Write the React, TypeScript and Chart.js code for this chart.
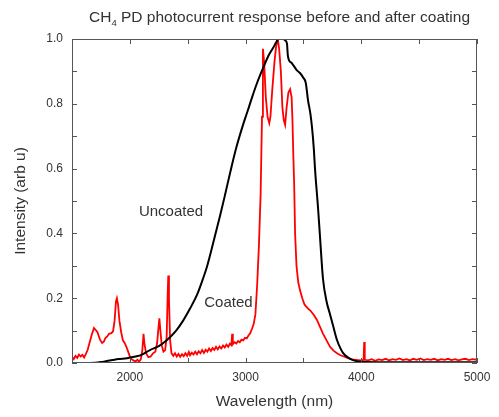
import React, { useEffect, useRef } from "react";
import { Chart, registerables } from "chart.js";

Chart.register(...registerables);

// Uncoated (black) response
const uncoatedWavelength = [
  1500, 1600, 1700, 1750, 1800, 1850, 1900, 1975, 2050, 2100, 2174, 2250, 2321, 2400, 2459, 2520,
  2580, 2630, 2667, 2720, 2780, 2820, 2865, 2920, 2978, 3020, 3056, 3100, 3151, 3200, 3237, 3265,
  3285, 3320, 3345, 3358, 3365, 3375, 3401, 3440, 3470, 3500, 3520, 3540, 3560, 3574, 3590, 3600,
  3628, 3645, 3669, 3700, 3730, 3760, 3790, 3820, 3842, 3880, 3928, 3970, 4049, 4200, 4500, 5000,
];
const uncoatedIntensity = [
  0, 0, 0.001, 0.003, 0.006, 0.009, 0.012, 0.015, 0.02, 0.025, 0.04, 0.052, 0.071, 0.1, 0.13, 0.168,
  0.21, 0.258, 0.298, 0.37, 0.455, 0.515, 0.585, 0.665, 0.735, 0.78, 0.82, 0.865, 0.91, 0.95, 0.972, 0.99,
  1.0, 1.0, 0.995, 0.985, 0.95, 0.935, 0.925, 0.905, 0.895, 0.88, 0.865, 0.81, 0.77, 0.728, 0.66, 0.6,
  0.47, 0.38, 0.26, 0.19, 0.15, 0.11, 0.071, 0.045, 0.031, 0.018, 0.009, 0.005, 0.003, 0.002, 0.002, 0.002,
];

// Coated (red) response
const coatedWavelength = [
  1500, 1515, 1530, 1545, 1560, 1575, 1590, 1605, 1620, 1635, 1650, 1673, 1690, 1705, 1720, 1742,
  1760, 1775, 1790, 1805, 1820, 1840, 1855, 1868, 1880, 1888, 1898, 1910, 1925, 1940, 1955, 1970,
  1985, 2000, 2015, 2030, 2050, 2065, 2080, 2095, 2108, 2118, 2126, 2140, 2160, 2180, 2200, 2220,
  2235, 2245, 2255, 2264, 2275, 2290, 2305, 2318, 2326, 2332, 2338, 2348, 2360, 2375, 2390, 2405,
  2420, 2435, 2450, 2465, 2480, 2495, 2510, 2520, 2535, 2550, 2565, 2580, 2595, 2610, 2625, 2640,
  2655, 2670, 2685, 2700, 2715, 2730, 2745, 2760, 2775, 2790, 2805, 2820, 2835, 2850, 2865, 2878,
  2884, 2890, 2905, 2920, 2935, 2950, 2965, 2980, 2995, 3010, 3025, 3040, 3055, 3070, 3085, 3100,
  3115, 3130, 3142, 3150, 3160, 3175, 3190, 3205, 3215, 3230, 3250, 3265, 3278, 3290, 3305, 3318,
  3330, 3342, 3355, 3370, 3385, 3398, 3405, 3412, 3420, 3428, 3440, 3455, 3470, 3490, 3510, 3540,
  3560, 3590, 3617, 3645, 3670, 3700, 3730, 3760, 3790, 3820, 3850, 3880, 3910, 3940, 3970, 4000,
  4020, 4025, 4030, 4060, 4090, 4120, 4150, 4180, 4210, 4240, 4270, 4300, 4330, 4360, 4390, 4420,
  4450, 4480, 4510, 4540, 4570, 4600, 4630, 4660, 4690, 4720, 4750, 4780, 4810, 4840, 4870, 4900,
  4930, 4960, 5000,
];
const coatedIntensity = [
  0.018, 0.012, 0.022, 0.016, 0.026, 0.02, 0.025, 0.017, 0.028, 0.04, 0.06, 0.09, 0.108, 0.102, 0.095, 0.072,
  0.062, 0.066, 0.078, 0.082, 0.09, 0.092, 0.098, 0.13, 0.19, 0.2, 0.18, 0.13, 0.095, 0.07, 0.062, 0.05,
  0.035, 0.02, 0.012, 0.008, 0.005, 0.01, 0.004, 0.012, 0.04, 0.09, 0.06, 0.03, 0.018, 0.02, 0.03, 0.035,
  0.06, 0.1, 0.138, 0.1, 0.055, 0.035, 0.04, 0.08, 0.2, 0.27, 0.2, 0.07, 0.03, 0.022, 0.03, 0.02,
  0.028, 0.019, 0.027, 0.021, 0.03, 0.022, 0.034, 0.024, 0.032, 0.026, 0.035, 0.027, 0.036, 0.03, 0.04, 0.031,
  0.041, 0.035, 0.045, 0.037, 0.046, 0.04, 0.05, 0.042, 0.051, 0.045, 0.054, 0.048, 0.057, 0.05, 0.06, 0.055,
  0.09, 0.058, 0.064, 0.06, 0.068, 0.064, 0.072, 0.07, 0.078, 0.076, 0.085, 0.092, 0.105, 0.12, 0.15, 0.24,
  0.36, 0.52, 0.76, 0.97, 0.93, 0.82, 0.76, 0.74, 0.76, 0.84, 0.93, 0.98, 1.0, 0.97, 0.9, 0.79,
  0.75, 0.735, 0.79, 0.835, 0.845, 0.82, 0.75, 0.65, 0.55, 0.4, 0.3, 0.25, 0.225, 0.2, 0.18, 0.168,
  0.162, 0.148, 0.133, 0.11, 0.09, 0.07, 0.05, 0.038, 0.03, 0.024, 0.02, 0.016, 0.012, 0.01, 0.009, 0.008,
  0.01, 0.065, 0.01, 0.008, 0.012, 0.007, 0.011, 0.009, 0.013, 0.008, 0.012, 0.01, 0.014, 0.009, 0.012, 0.008,
  0.013, 0.01, 0.014, 0.009, 0.012, 0.01, 0.013, 0.008, 0.012, 0.01, 0.013, 0.009, 0.012, 0.008, 0.011, 0.013,
  0.009, 0.012, 0.01,
];

const xTickLabels = [2000, 3000, 4000, 5000];
const yTickLabels = [0, 0.2, 0.4, 0.6, 0.8, 1.0];

const FONT = "'Liberation Sans', Arial, sans-serif";
const TEXT = "#333333";

const framePlugin = {
  id: "frameTicks",
  afterDatasetsDraw(chart: any) {
    const { ctx, chartArea } = chart;
    const { left, right, top, bottom } = chartArea;
    const xs = chart.scales.x;
    const ys = chart.scales.y;
    ctx.save();
    ctx.strokeStyle = "#555555";
    ctx.lineWidth = 1;
    ctx.beginPath();
    ctx.rect(left + 0.5, top + 0.5, right - left - 1, bottom - top - 1);
    ctx.stroke();
    const tl = 5;
    ctx.beginPath();
    xs.ticks.forEach((t: any) => {
      const px = Math.round(xs.getPixelForValue(t.value)) + 0.5;
      ctx.moveTo(px, bottom);
      ctx.lineTo(px, bottom - tl);
      ctx.moveTo(px, top);
      ctx.lineTo(px, top + tl);
    });
    ys.ticks.forEach((t: any) => {
      const py = Math.round(ys.getPixelForValue(t.value)) + 0.5;
      ctx.moveTo(left, py);
      ctx.lineTo(left + tl, py);
      ctx.moveTo(right, py);
      ctx.lineTo(right - tl, py);
    });
    ctx.stroke();

    // curve labels
    ctx.fillStyle = TEXT;
    ctx.font = `15px ${FONT}`;
    ctx.textAlign = "center";
    ctx.textBaseline = "middle";
    const labels = [
      { text: "Uncoated", x: 2356, y: 0.466 },
      { text: "Coated", x: 2852, y: 0.185 },
    ];
    labels.forEach((l) => {
      ctx.fillText(l.text, xs.getPixelForValue(l.x), ys.getPixelForValue(l.y));
    });

    // title with subscript
    const size = 15.5;
    const parts = [
      { t: "CH", s: size, dy: 0 },
      { t: "4", s: size * 0.62, dy: 5 },
      { t: " PD photocurrent response before and after coating", s: size, dy: 0 },
    ];
    let total = 0;
    parts.forEach((p) => {
      ctx.font = `${p.s}px ${FONT}`;
      total += ctx.measureText(p.t).width;
    });
    let x = 279.5 - total / 2;
    ctx.textAlign = "left";
    parts.forEach((p) => {
      ctx.font = `${p.s}px ${FONT}`;
      ctx.fillText(p.t, x, 18 + p.dy);
      x += ctx.measureText(p.t).width;
    });
    ctx.restore();
  },
};

export default function App() {
  const ref = useRef<HTMLCanvasElement | null>(null);
  useEffect(() => {
    if (!ref.current) return;
    const uncoated = uncoatedWavelength.map((x, i) => ({ x, y: uncoatedIntensity[i] }));
    const coated = coatedWavelength.map((x, i) => ({ x, y: coatedIntensity[i] }));
    const chart = new Chart(ref.current, {
      type: "scatter",
      data: {
        datasets: [
          {
            label: "Uncoated",
            data: uncoated,
            showLine: true,
            borderColor: "#000000",
            borderWidth: 2,
            pointRadius: 0,
            cubicInterpolationMode: "monotone",
          },
          {
            label: "Coated",
            data: coated,
            showLine: true,
            borderColor: "#ff0000",
            borderWidth: 1.8,
            pointRadius: 0,
            tension: 0,
          },
        ],
      },
      options: {
        animation: false,
        responsive: false,
        layout: { padding: { top: 39, right: 22, left: 0, bottom: 0 } },
        plugins: {
          legend: { display: false },
          title: { display: false },
          tooltip: { enabled: false },
        },
        scales: {
          x: {
            type: "linear",
            min: 1500,
            max: 5000,
            afterFit: (s: any) => {
              s.height = 54;
            },
            ticks: {
              stepSize: 500,
              autoSkip: false,
              maxRotation: 0,
              padding: 7,
              color: TEXT,
              font: { family: FONT, size: 12 },
              callback: (v: any) => (xTickLabels.includes(Number(v)) ? String(v) : ""),
            },
            grid: { display: false, drawTicks: false },
            border: { display: false },
            title: {
              display: true,
              text: "Wavelength (nm)",
              color: TEXT,
              font: { family: FONT, size: 15.5 },
              padding: { top: 0, bottom: 6 },
            },
          },
          y: {
            type: "linear",
            min: 0,
            max: 1,
            afterFit: (s: any) => {
              s.width = 72;
            },
            ticks: {
              stepSize: 0.1,
              autoSkip: false,
              padding: 9,
              color: TEXT,
              font: { family: FONT, size: 12 },
              callback: (v: any) => {
                const n = Number(v);
                return yTickLabels.some((t) => Math.abs(t - n) < 1e-6) ? n.toFixed(1) : "";
              },
            },
            grid: { display: false, drawTicks: false },
            border: { display: false },
            title: {
              display: true,
              text: "Intensity (arb u)",
              color: TEXT,
              font: { family: FONT, size: 15.5 },
              padding: { top: 11, bottom: 0 },
            },
          },
        },
      },
      plugins: [framePlugin],
    });
    return () => chart.destroy();
  }, []);
  return (
    <div style={{ position: "fixed", left: 0, top: 0, width: 499, height: 417, background: "#fff" }}>
      <canvas ref={ref} width={499} height={417} style={{ width: 499, height: 417 }} />
    </div>
  );
}
